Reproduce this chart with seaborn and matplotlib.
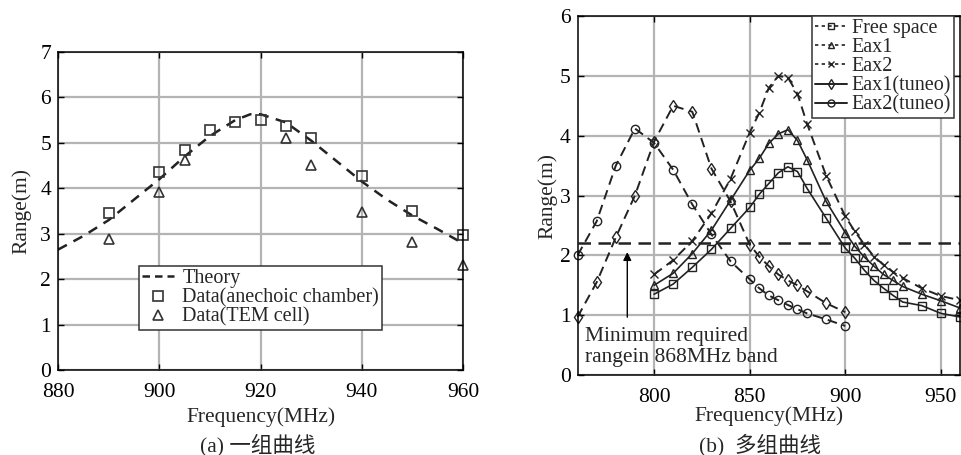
import numpy as np
import pandas as pd
import matplotlib
matplotlib.use('Agg')
import matplotlib.pyplot as plt
from matplotlib.lines import Line2D
import seaborn as sns

# ---------------- datos (a) ----------------
theory_f = [880, 885, 890, 895, 900, 905, 910, 915, 918, 920, 925, 930, 935, 940, 945, 950, 955, 959]
theory_r = [2.65, 2.95, 3.3, 3.75, 4.2, 4.7, 5.15, 5.5, 5.63, 5.63, 5.45, 5.05, 4.6, 4.15, 3.75, 3.4, 3.1, 2.85]
anech_f = [890, 900, 905, 910, 915, 920, 925, 930, 940, 950, 960]
anech_r = [3.45, 4.35, 4.85, 5.28, 5.45, 5.5, 5.37, 5.1, 4.27, 3.5, 2.97]
tem_f = [890, 900, 905, 925, 930, 940, 950, 960]
tem_r = [2.88, 3.92, 4.62, 5.1, 4.52, 3.47, 2.82, 2.32]

# ---------------- datos (b) ----------------
fs_f = [800, 810, 820, 830, 840, 850, 855, 860, 865, 870, 875, 880, 890, 900, 905, 910, 915, 920, 925, 930, 940, 950, 960]
fs_r = [1.35, 1.52, 1.8, 2.1, 2.45, 2.8, 3.02, 3.2, 3.38, 3.48, 3.4, 3.12, 2.62, 2.12, 1.95, 1.75, 1.58, 1.45, 1.33, 1.22, 1.16, 1.03, 0.97]
eax1_r = [1.5, 1.7, 2.03, 2.42, 2.92, 3.42, 3.62, 3.87, 4.03, 4.1, 3.92, 3.6, 2.9, 2.38, 2.15, 1.97, 1.82, 1.68, 1.58, 1.48, 1.35, 1.24, 1.12]
eax2_r = [1.68, 1.92, 2.24, 2.7, 3.28, 4.05, 4.38, 4.8, 5.0, 4.97, 4.7, 4.2, 3.33, 2.65, 2.4, 2.18, 1.98, 1.84, 1.72, 1.62, 1.45, 1.32, 1.25]
tun_f = [760, 770, 780, 790, 800, 810, 820, 830, 840, 850, 855, 860, 865, 870, 875, 880, 890, 900]
eax1t_r = [0.97, 1.55, 2.3, 3.0, 3.9, 4.5, 4.4, 3.45, 2.9, 2.18, 1.98, 1.82, 1.68, 1.58, 1.5, 1.4, 1.2, 1.05]
eax2t_r = [2.0, 2.57, 3.5, 4.12, 3.88, 3.43, 2.85, 2.35, 1.9, 1.6, 1.45, 1.33, 1.25, 1.17, 1.1, 1.03, 0.93, 0.82]
min_range = 2.2

sns.set_style('ticks')
plt.rcParams['font.family'] = ['Liberation Serif', 'Noto Sans CJK SC', 'DejaVu Sans']
plt.rcParams['xtick.direction'] = 'in'
plt.rcParams['ytick.direction'] = 'in'

fig = plt.figure(figsize=(9.61, 4.55), dpi=100)
ax1 = fig.add_axes([0.0604, 0.1868, 0.4214, 0.6989])
ax2 = fig.add_axes([0.601, 0.1758, 0.398, 0.789])

FS = 15.5
LFS = 14.5
for ax in (ax1, ax2):
    ax.grid(True, color='#b4b4b4', linewidth=1.6)
    ax.set_axisbelow(True)
    ax.tick_params(top=True, right=True, length=4, width=1, labelsize=FS, colors='black')
    ax.tick_params(axis='x', pad=9)
    ax.tick_params(axis='y', pad=5)
    for s in ax.spines.values():
        s.set_color('black')
        s.set_linewidth(1.1)

# (a)
sns.lineplot(x=theory_f, y=theory_r, ax=ax1, color='#222222', linewidth=1.8,
             linestyle=(0, (4, 3)), sort=False)
ax1.plot(anech_f, anech_r, 's', ms=7, mfc='none', mec='#333333', mew=1.2, clip_on=False)
ax1.plot(tem_f, tem_r, '^', ms=7, mfc='none', mec='#333333', mew=1.2, clip_on=False)
ax1.set_xlim(880, 960)
ax1.set_ylim(0, 7)
ax1.set_xticks([880, 900, 920, 940, 960])
ax1.set_yticks(range(8))
ax1.set_xlabel('Frequency(MHz)', fontsize=FS, labelpad=4)
ax1.set_ylabel('Range(m)', fontsize=FS, labelpad=6)
h1 = [Line2D([], [], color='#222222', lw=1.8, linestyle=(0, (3, 2))),
      Line2D([], [], ls='none', marker='s', ms=7, mfc='none', mec='#333333', mew=1.2),
      Line2D([], [], ls='none', marker='^', ms=7, mfc='none', mec='#333333', mew=1.2)]
leg1 = ax1.legend(h1, ['Theory', 'Data(anechoic chamber)', 'Data(TEM cell)'],
                  loc='lower left', bbox_to_anchor=(0.2, 0.126), borderaxespad=0,
                  fontsize=LFS, labelspacing=0.0, handlelength=1.6, handletextpad=0.4,
                  borderpad=0.15, fancybox=False, edgecolor='#333333', framealpha=1)
leg1.get_frame().set_linewidth(1.1)

# (b)
mk = dict(ms=6, mfc='none', mec='#222222', mew=1.0)
dash = (0, (5, 3))
sns.lineplot(x=fs_f, y=fs_r, ax=ax2, color='#222222', lw=1.2, marker='s', **mk)
sns.lineplot(x=fs_f, y=eax1_r, ax=ax2, color='#222222', lw=1.2, marker='^', **mk)
sns.lineplot(x=fs_f, y=eax2_r, ax=ax2, color='#222222', lw=1.4, linestyle=dash, marker='x', **mk)
sns.lineplot(x=tun_f, y=eax1t_r, ax=ax2, color='#222222', lw=1.4, linestyle=dash, marker='d', **mk)
sns.lineplot(x=tun_f, y=eax2t_r, ax=ax2, color='#222222', lw=1.4, linestyle=dash, marker='o', **mk)
for ln in ax2.lines:
    ln.set_clip_on(False)
ax2.axhline(min_range, color='#222222', lw=1.8, linestyle=(0, (5, 3)))
ax2.annotate('', xy=(786, 2.1), xytext=(786, 0.92),
             arrowprops=dict(arrowstyle='-|>', color='black', lw=1.0, mutation_scale=12))
ax2.text(764, 0.64, 'Minimum required', fontsize=FS, va='center', ha='left')
ax2.text(764, 0.3, 'rangein 868MHz band', fontsize=FS, va='center', ha='left')
ax2.set_xlim(760, 960)
ax2.set_ylim(0, 6)
ax2.set_xticks([800, 850, 900, 950])
ax2.set_yticks(range(7))
ax2.set_xlabel('Frequency(MHz)', fontsize=FS, labelpad=0)
ax2.set_ylabel('Range(m)', fontsize=FS, labelpad=2)
hm = dict(color='#222222', ms=5, mfc='none', mec='#222222', mew=1.0)
h2 = [Line2D([], [], lw=1.2, linestyle=(0, (2, 2)), marker='s', **hm),
      Line2D([], [], lw=1.2, linestyle=(0, (2, 2)), marker='^', **hm),
      Line2D([], [], lw=1.2, linestyle=(0, (2, 2)), marker='x', **hm),
      Line2D([], [], lw=1.4, marker='d', **hm),
      Line2D([], [], lw=1.4, marker='o', **hm)]
leg2 = ax2.legend(h2, ['Free space', 'Eax1', 'Eax2', 'Eax1(tuneo)', 'Eax2(tuneo)'],
                  loc='upper right', bbox_to_anchor=(0.984, 1.0), borderaxespad=0,
                  fontsize=LFS, labelspacing=0.0, handlelength=1.6, handletextpad=0.2,
                  borderpad=0.15, fancybox=False, edgecolor='#333333', framealpha=1)
leg2.get_frame().set_linewidth(1.1)

fig.text(0.268, 0.022, '(a) 一组曲线', fontsize=FS, ha='center', va='center')
fig.text(0.791, 0.022, '(b)  多组曲线', fontsize=FS, ha='center', va='center')

fig.savefig('out.png', dpi=100)
